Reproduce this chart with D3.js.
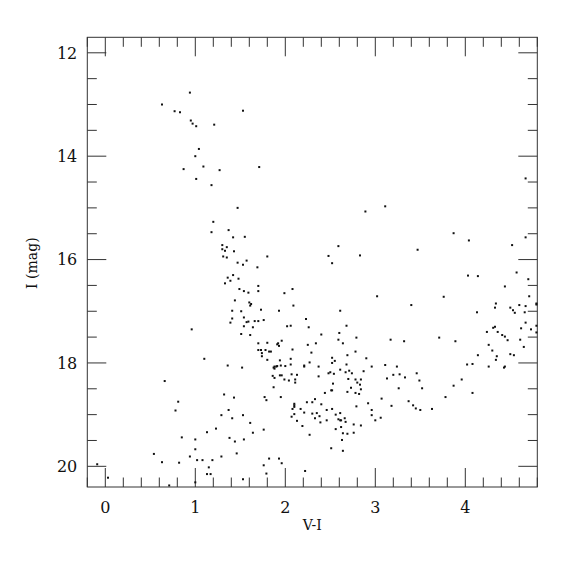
<!DOCTYPE html>
<html>
<head>
<meta charset="utf-8">
<script src="https://cdn.jsdelivr.net/npm/d3@7"></script>
<style>
  html, body { margin: 0; padding: 0; background: #fff; }
  svg text { font-family: "DejaVu Serif", "Liberation Serif", serif; fill: #111; }
</style>
</head>
<body>
<div id="chart"></div>
<script>
// star photometry, [V-I, I]
var brightStars = [
  [0.94,12.77],[0.63,13.00],[0.77,13.13],[0.83,13.15],[1.53,13.12],[0.95,13.31],[0.97,13.37],
  [1.01,13.42],[1.21,13.39],[1.04,13.86],[1.00,14.00],[1.09,14.20],[0.87,14.25],[1.27,14.27],
  [1.71,14.21],[1.01,14.44],[1.18,14.56]
];
var blueBranch = [
  [1.47,15.00],[1.20,15.27],[1.18,15.47],[1.37,15.43],[1.42,15.57],[1.55,15.56],[1.30,15.72],
  [1.35,15.76],[1.30,15.80],[1.33,15.83],[1.43,15.84],[1.31,15.94],[1.35,15.96],[1.80,15.94],
  [1.47,16.06],[1.57,16.02],[1.53,16.10],[1.69,16.15],[1.42,16.30],[1.36,16.35],[1.48,16.37],
  [1.39,16.41],[1.33,16.46],[1.70,16.51],[1.49,16.57],[1.54,16.61],[1.59,16.64],[1.70,16.61],
  [1.44,16.79],[1.60,16.83],[1.61,16.89],[1.62,16.86],[1.41,16.99],[1.51,17.00],[1.73,16.97],
  [1.93,16.99],[1.41,17.14],[1.54,17.12],[1.39,17.22],[1.57,17.21],[1.59,17.20],[1.66,17.19],
  [1.70,17.19],[1.76,17.17],[1.54,17.29],[1.64,17.31],[0.96,17.35],[1.51,17.44],[1.61,17.46],
  [1.70,17.62],[1.80,17.61],[1.92,17.62],[1.93,17.67],[1.91,17.64],[1.70,17.75],[1.73,17.75],
  [1.78,17.75],[1.82,17.78],[1.84,17.78],[1.74,17.81],[1.74,17.87],[1.10,17.92],[1.80,17.94]
];
var faintBlue = [
  [1.94,17.95],[1.36,18.05],[1.52,18.09],[1.88,18.07],[1.90,18.07],[1.91,18.06],[1.87,18.09],
  [1.86,18.25],[1.88,18.29],[1.94,18.24],[0.66,18.35],[1.87,18.47],[1.32,18.61],[1.43,18.67],
  [0.81,18.75],[1.77,18.66],[1.79,18.72],[0.78,18.92],[1.37,18.91],[1.29,19.01],[1.53,19.01],
  [1.41,19.07],[1.61,19.16],[1.13,19.34],[1.23,19.27],[1.64,19.35],[1.76,19.29],[0.85,19.44],
  [1.38,19.45],[1.44,19.52],[1.54,19.48],[1.00,19.48],[1.00,19.67],[1.46,19.75],[0.54,19.76],
  [0.94,19.81],[1.02,19.88],[1.08,19.88],[1.19,19.88],[1.29,19.81],[0.63,19.92],[0.82,19.93],
  [-0.09,19.96],[1.15,20.02],[1.13,20.15],[1.17,20.15],[0.03,20.22],[0.71,20.37],[1.00,20.31],
  [1.53,20.25],[1.76,19.98],[1.79,20.14],[1.82,19.85],[1.93,19.85]
];
var midStars = [
  [3.11,14.97],[2.89,15.07],[2.59,15.74],[2.48,15.93],[2.83,15.92],[2.52,16.07],[2.08,16.57],
  [1.99,16.65],[3.02,16.71],[2.09,16.89],[2.61,16.99],[2.23,17.15],[2.02,17.29],[2.06,17.28],
  [2.26,17.31],[2.68,17.28],[2.40,17.45],[2.60,17.42],[2.79,17.51],[1.96,17.57],[2.59,17.55],
  [2.64,17.62],[2.34,17.62],[2.25,17.65],[3.17,17.55],[3.32,17.58],[2.08,17.74],[2.29,17.80],
  [2.78,17.78],[2.69,17.85],[2.06,17.92],[2.52,17.90],[2.90,17.91]
];
var clumpStars = [
  [2.52,18.00],[2.55,17.96],[2.06,18.03],[1.95,18.05],[1.88,18.11],[2.00,18.06],[2.21,18.05],
  [2.21,18.07],[2.27,17.99],[2.37,18.07],[2.68,18.03],[2.96,18.07],[3.11,18.04],[3.24,18.07],
  [2.61,18.13],[2.50,18.18],[2.48,18.20],[2.54,18.21],[2.71,18.15],[2.67,18.18],[2.74,18.20],
  [2.87,18.16],[2.07,18.22],[2.13,18.23],[1.96,18.24],[2.37,18.26],[2.78,18.32],[2.84,18.32],
  [2.70,18.31],[1.99,18.32],[2.04,18.34],[2.11,18.32],[2.11,18.38],[3.20,18.23],[3.27,18.22],
  [3.33,18.28],[3.13,18.30],[2.53,18.40],[2.83,18.42],[2.80,18.38],[2.73,18.48],[2.51,18.53],
  [2.52,18.53],[2.69,18.56],[2.78,18.58],[2.82,18.60],[2.84,18.51],[3.26,18.49],[2.44,18.58],
  [1.95,18.66],[2.33,18.70],[3.07,18.69],[3.37,18.74],[2.30,18.76],[2.24,18.76],[2.10,18.79],
  [2.10,18.82],[2.10,18.85],[2.40,18.80],[2.92,18.78],[3.18,18.83],[2.79,18.84],[2.17,18.89],
  [2.08,18.89],[2.52,18.89],[2.46,18.91],[2.96,18.91],[2.21,18.96],[2.30,18.98],[2.35,18.97],
  [2.38,19.03],[2.61,18.97],[2.56,19.00],[2.10,18.99],[2.96,19.01],[2.07,19.04],[2.66,19.07],
  [2.59,19.09],[2.61,19.11],[2.62,19.11],[2.67,19.14],[2.33,19.07],[2.13,19.12],[2.46,19.11],
  [2.39,19.15],[3.00,19.11],[3.06,19.06],[2.76,19.19],[2.62,19.24],[2.84,19.21],[2.19,19.22],
  [2.56,19.28],[2.64,19.36],[2.69,19.37],[2.76,19.35],[2.27,19.39],[2.63,19.49],[2.51,19.65],
  [2.64,19.70],[1.96,19.94],[2.22,20.09]
];
var redStars = [
  [4.67,14.43],[3.87,15.49],[4.04,15.63],[3.47,15.81],[4.67,15.57],[4.52,15.72],[4.57,16.25],
  [4.70,16.38],[4.03,16.31],[4.14,16.32],[4.44,16.52],[4.71,16.71],[3.76,16.72],[3.40,16.88],
  [4.34,16.85],[4.33,16.93],[4.50,16.93],[4.53,16.98],[4.55,17.03],[4.60,16.88],[4.67,16.90],
  [4.79,16.85],[4.79,16.87],[4.13,17.02],[4.66,17.02],[4.67,17.22],[4.79,17.28],[4.62,17.33],
  [4.73,17.35],[4.79,17.41],[4.31,17.32],[4.33,17.30],[4.24,17.40],[4.36,17.40],[4.41,17.46],
  [4.44,17.49],[4.47,17.56],[4.61,17.55],[4.65,17.69],[3.71,17.51],[3.89,17.58],[4.26,17.65],
  [4.30,17.76],[4.35,17.87],[4.34,17.94],[4.14,17.85],[4.50,17.83],[4.54,17.85],
  [4.02,18.03],[4.08,18.02],[4.26,18.07],[4.43,18.09],[4.44,18.07],[3.46,18.20],[3.49,18.34],
  [3.52,18.49],[3.96,18.32],[3.87,18.44],[4.08,18.58],[3.78,18.66],[3.42,18.82],[3.45,18.88],
  [3.50,18.91],[3.63,18.89]
];
var xTickLabels = [0, 1, 2, 3, 4];
var yTickLabels = [12, 14, 16, 18, 20];

var allStars = brightStars.concat(blueBranch, faintBlue, midStars, clumpStars, redStars);

var width = 575, height = 575;
var margin = { top: 37.3, right: 37.7, bottom: 88, left: 87.3 };
var w = width - margin.left - margin.right;
var h = height - margin.top - margin.bottom;

var svg = d3.select("#chart").append("svg")
  .attr("width", width)
  .attr("height", height);

var g = svg.append("g")
  .attr("transform", `translate(${margin.left},${margin.top})`);

var x = d3.scaleLinear().domain([-0.2, 4.8]).range([0, w]);
var y = d3.scaleLinear().domain([11.7, 20.4]).range([0, h]);

var xMinor = d3.range(-0.2, 4.81, 0.2).map(v => +v.toFixed(1));
var yMinor = d3.range(12, 20.41, 0.5);
var majorLen = 19, minorLen = 9.5;
var tickColor = "#333";

// ticks on all four sides, pointing inward
function drawTicks() {
  var tg = g.append("g").attr("stroke", tickColor).attr("stroke-width", 1);
  xMinor.forEach(function (v) {
    var len = xTickLabels.includes(v) ? majorLen : minorLen;
    var px = x(v);
    tg.append("line").attr("x1", px).attr("x2", px).attr("y1", h).attr("y2", h - len);
    tg.append("line").attr("x1", px).attr("x2", px).attr("y1", 0).attr("y2", len);
  });
  yMinor.forEach(function (v) {
    var len = yTickLabels.includes(v) ? majorLen : minorLen;
    var py = y(v);
    tg.append("line").attr("y1", py).attr("y2", py).attr("x1", 0).attr("x2", len);
    tg.append("line").attr("y1", py).attr("y2", py).attr("x1", w).attr("x2", w - len);
  });
}
drawTicks();

g.append("rect")
  .attr("x", 0).attr("y", 0).attr("width", w).attr("height", h)
  .attr("fill", "none").attr("stroke", tickColor).attr("stroke-width", 1);

// tick labels
g.selectAll(".xlab").data(xTickLabels).enter().append("text")
  .attr("x", d => x(d))
  .attr("y", h + 26)
  .attr("text-anchor", "middle")
  .style("font-size", "16px")
  .text(d => d);

g.selectAll(".ylab").data(yTickLabels).enter().append("text")
  .attr("x", -10)
  .attr("y", d => y(d))
  .attr("dy", "0.36em")
  .attr("text-anchor", "end")
  .style("font-size", "16px")
  .text(d => d);

g.append("text")
  .attr("x", w / 2)
  .attr("y", h + 43)
  .attr("text-anchor", "middle")
  .style("font-size", "14px")
  .text("V-I");

g.append("text")
  .attr("transform", `translate(${-50},${h / 2 + 1}) rotate(-90)`)
  .attr("text-anchor", "middle")
  .style("font-size", "14px")
  .text("I (mag)");

// the stars
g.append("g").selectAll("rect").data(allStars).enter().append("rect")
  .attr("x", d => x(d[0]) - 1)
  .attr("y", d => y(d[1]) - 1)
  .attr("width", 2)
  .attr("height", 2)
  .attr("fill", "#111");
</script>
</body>
</html>
